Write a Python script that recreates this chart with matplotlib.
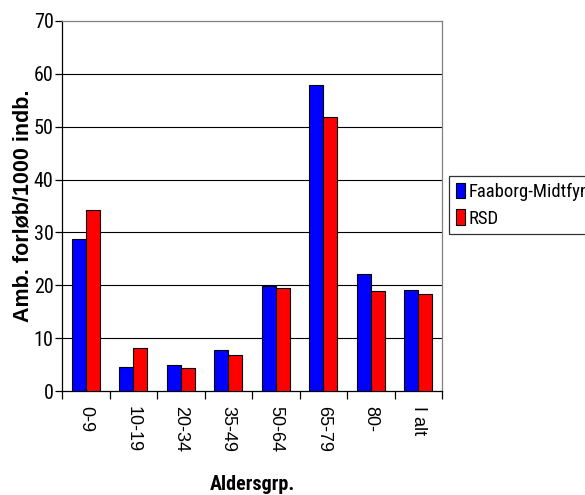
import matplotlib
matplotlib.use("Agg")
import matplotlib.pyplot as plt
import numpy as np
from matplotlib.font_manager import FontProperties

categories = ["0-9", "10-19", "20-34", "35-49", "50-64", "65-79", "80-", "I alt"]
faaborg = [28.8, 4.6, 5.0, 7.8, 19.9, 57.8, 22.2, 19.2]
rsd = [34.2, 8.1, 4.4, 6.8, 19.4, 51.8, 18.9, 18.3]
series_names = ["Faaborg-Midtfyn", "RSD"]
y_ticks = [0, 10, 20, 30, 40, 50, 60, 70]

narrow = ["Roboto Condensed", "Archivo Narrow", "Liberation Sans", "DejaVu Sans"]

fig = plt.figure(figsize=(5.85, 4.95), dpi=100)
ax = fig.add_axes([0.106, 0.2101, 0.6496, 0.7475])

x = np.arange(len(categories))
w = 0.295
ax.bar(x - w / 2, faaborg, width=w, color="#0000ff", edgecolor="black",
       linewidth=0.8, label=series_names[0], zorder=3)
ax.bar(x + w / 2, rsd, width=w, color="#ff0000", edgecolor="black",
       linewidth=0.8, label=series_names[1], zorder=3)

ax.set_xlim(-0.5, len(categories) - 0.5)
ax.set_ylim(0, 70)

# horizontal gridlines
for v in y_ticks[1:-1]:
    ax.axhline(v, color="black", linewidth=0.8, zorder=1)

ax.spines["left"].set_color("black")
ax.spines["bottom"].set_color("black")
ax.spines["top"].set_color("#808080")
ax.spines["right"].set_color("#808080")
for s in ax.spines.values():
    s.set_linewidth(0.9)

ax.set_yticks(y_ticks)
ax.set_yticklabels([str(v) for v in y_ticks], fontfamily=narrow, fontsize=14.5)
ax.tick_params(axis="y", direction="out", length=5, width=0.9, pad=1)

ax.set_xticks(x)
ax.set_xticklabels(categories, rotation=-90, fontfamily=["Liberation Sans", "DejaVu Sans"],
                   fontsize=13)
ax.set_xticks(np.arange(len(categories) + 1) - 0.5, minor=True)
ax.tick_params(axis="x", which="major", length=0, pad=11)
ax.tick_params(axis="x", which="minor", direction="out", length=6, width=0.9)

ax.set_ylabel("Amb. forløb/1000 indb.", fontfamily=["Liberation Sans", "DejaVu Sans"],
              fontweight="bold", fontsize=15.5, labelpad=0)
ax.set_xlabel("Aldersgrp.", fontfamily=narrow, fontweight="bold", fontsize=14.5, labelpad=16)

leg = fig.legend(loc="upper left", bbox_to_anchor=(0.7675, 0.6444),
                 prop=FontProperties(family=narrow, size=13.5),
                 frameon=True, fancybox=False, edgecolor="black",
                 handlelength=0.5, handleheight=0.9, handletextpad=0.2,
                 borderpad=0.35, borderaxespad=0, labelspacing=0.45)
leg.get_frame().set_linewidth(0.9)

fig.savefig("out.png", dpi=100)
